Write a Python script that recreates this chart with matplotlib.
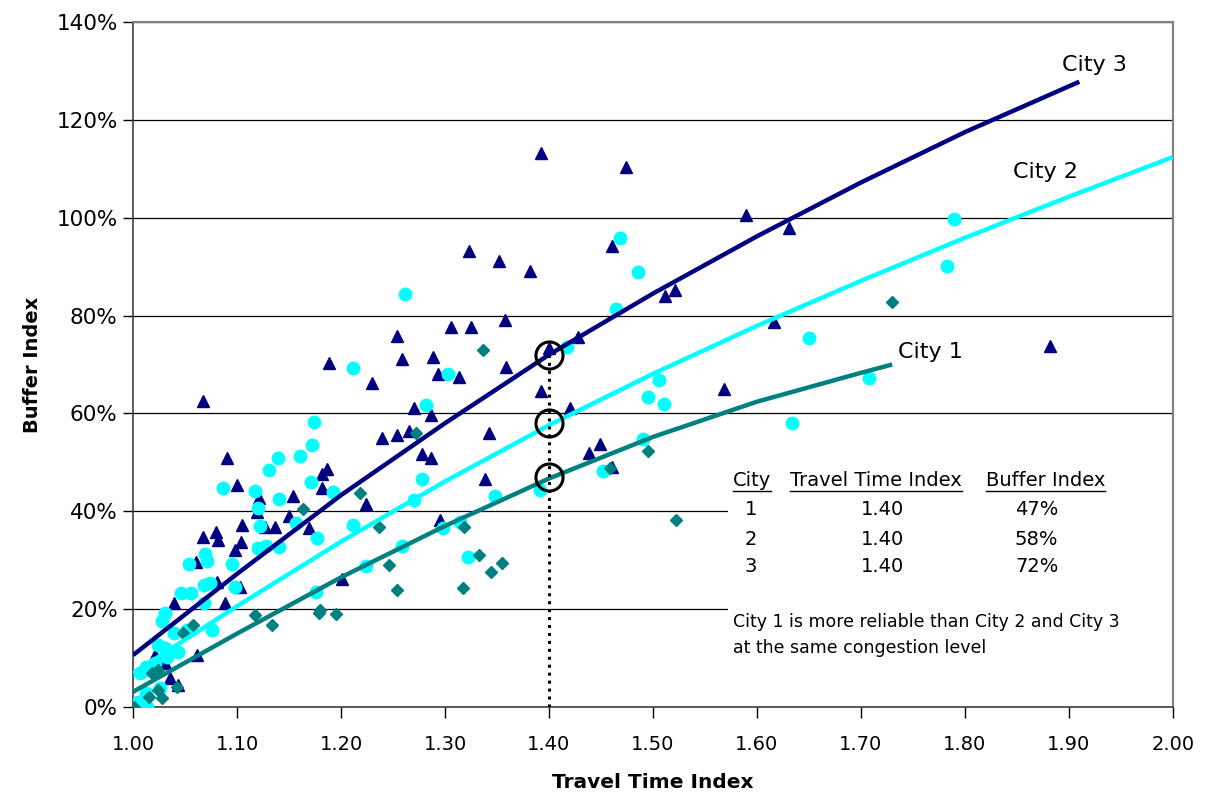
import numpy as np
import matplotlib
matplotlib.use("Agg")
import matplotlib.pyplot as plt
from matplotlib.patches import Rectangle
from matplotlib.ticker import FuncFormatter

# scatter points (travel time index, buffer index %)
city1_x = [1.001, 1.015, 1.028, 1.024, 1.042, 1.018, 1.024, 1.048, 1.058, 1.117,
           1.134, 1.163, 1.180, 1.179, 1.195, 1.218, 1.237, 1.246, 1.254, 1.272,
           1.317, 1.318, 1.333, 1.337, 1.344, 1.355, 1.459, 1.495, 1.522, 1.730]
city1_y = [0.0, 2.0, 1.8, 3.5, 4.1, 6.9, 7.6, 15.1, 16.8, 18.8,
           16.8, 40.5, 19.8, 19.2, 19.0, 43.7, 36.8, 29.0, 23.9, 56.0,
           24.3, 36.8, 31.1, 73.0, 27.6, 29.4, 48.8, 52.3, 38.2, 82.8]

city2_x = [1.000, 1.005, 1.013, 1.012, 1.026, 1.007, 1.014, 1.012, 1.021, 1.033,
           1.043, 1.031, 1.024, 1.039, 1.052, 1.076, 1.028, 1.031, 1.068, 1.046,
           1.056, 1.068, 1.074, 1.098, 1.054, 1.069, 1.071, 1.095, 1.120, 1.128,
           1.140, 1.122, 1.120, 1.140, 1.117, 1.087, 1.131, 1.139, 1.161, 1.172,
           1.174, 1.171, 1.157, 1.177, 1.176, 1.192, 1.212, 1.212, 1.224, 1.259,
           1.262, 1.270, 1.278, 1.282, 1.298, 1.303, 1.314, 1.322, 1.348, 1.391,
           1.417, 1.452, 1.464, 1.468, 1.486, 1.490, 1.495, 1.506, 1.511, 1.634,
           1.650, 1.708, 1.783, 1.789]
city2_y = [0.0, 1.0, 0.0, 2.9, 3.9, 6.9, 7.6, 8.2, 9.0, 10.2,
           11.2, 12.1, 12.7, 15.1, 15.7, 15.7, 17.6, 19.2, 21.3, 23.3,
           23.3, 24.9, 25.3, 24.5, 29.2, 31.3, 29.8, 29.2, 32.5, 32.9,
           32.7, 37.0, 40.7, 42.5, 44.1, 44.8, 48.4, 50.9, 51.3, 53.5,
           58.2, 46.0, 37.6, 34.5, 23.5, 43.9, 37.2, 69.3, 28.8, 32.9,
           84.4, 42.3, 46.6, 61.7, 36.6, 68.1, 37.8, 30.7, 43.1, 44.3,
           73.6, 48.2, 81.3, 95.8, 88.9, 54.8, 63.4, 66.8, 61.9, 58.0,
           75.4, 67.2, 90.1, 99.7]

city3_x = [1.021, 1.031, 1.036, 1.043, 1.039, 1.062, 1.061, 1.067, 1.067, 1.080,
           1.082, 1.081, 1.088, 1.090, 1.098, 1.100, 1.103, 1.104, 1.105, 1.119,
           1.121, 1.127, 1.137, 1.150, 1.154, 1.169, 1.182, 1.182, 1.187, 1.188,
           1.201, 1.224, 1.230, 1.239, 1.254, 1.254, 1.259, 1.265, 1.270, 1.278,
           1.287, 1.287, 1.288, 1.293, 1.295, 1.306, 1.313, 1.323, 1.325, 1.338,
           1.342, 1.352, 1.358, 1.359, 1.382, 1.392, 1.392, 1.400, 1.420, 1.428,
           1.438, 1.449, 1.461, 1.461, 1.474, 1.512, 1.521, 1.568, 1.589, 1.616,
           1.631, 1.882]
city3_y = [10.6, 9.0, 5.9, 4.5, 21.2, 10.6, 29.6, 34.7, 62.5, 35.8,
           34.1, 25.6, 21.3, 50.9, 32.1, 45.4, 24.5, 33.7, 37.2, 39.9,
           42.7, 36.8, 36.8, 39.0, 43.1, 36.6, 44.8, 47.6, 48.6, 70.3,
           26.2, 41.5, 66.2, 55.0, 55.6, 75.8, 71.1, 56.4, 61.1, 51.7,
           50.9, 59.7, 71.5, 68.1, 38.2, 77.7, 67.4, 93.2, 77.7, 46.6,
           56.0, 91.2, 79.1, 69.5, 89.1, 64.6, 113.2, 73.4, 61.1, 75.6,
           51.9, 53.8, 49.1, 94.2, 110.4, 84.0, 85.2, 65.0, 100.6, 78.7,
           97.9, 73.8]

# trend lines
trend1_x = [1.00, 1.10, 1.20, 1.30, 1.40, 1.50, 1.60, 1.70, 1.73]
trend1_y = [3.1, 15.0, 26.5, 37.0, 46.7, 55.2, 62.4, 68.3, 70.0]
trend2_x = [1.00, 1.10, 1.20, 1.30, 1.40, 1.50, 1.60, 1.70, 1.80, 1.90, 2.00]
trend2_y = [6.9, 20.6, 33.8, 46.1, 57.6, 68.1, 77.9, 87.1, 95.9, 104.3, 112.4]
trend3_x = [1.00, 1.10, 1.20, 1.30, 1.40, 1.50, 1.60, 1.70, 1.80, 1.91]
trend3_y = [10.6, 27.2, 43.3, 58.0, 72.0, 84.5, 96.2, 107.2, 117.5, 127.8]

# comparison at TTI = 1.40
cities = ["1", "2", "3"]
tti = [1.40, 1.40, 1.40]
buffer = [47, 58, 72]

navy = "#000080"
cyan = "#00FFFF"
teal = "#008080"

plt.rcParams['font.family'] = ['DejaVu Sans']

fig = plt.figure(figsize=(12.06, 8), dpi=100)
ax = fig.add_axes([0.1103, 0.11625, 0.8623, 0.85625])

ax.set_xlim(1.0, 2.0)
ax.set_ylim(0, 140)
ax.set_xticks(np.arange(1.0, 2.01, 0.1))
ax.set_yticks(np.arange(0, 141, 20))
ax.xaxis.set_major_formatter(FuncFormatter(lambda v, p: f"{v:.2f}"))
ax.yaxis.set_major_formatter(FuncFormatter(lambda v, p: f"{v:.0f}%"))
ax.tick_params(axis='y', labelsize=15.5, length=7, width=1, pad=4)
ax.tick_params(axis='x', labelsize=14, length=8, width=1, pad=12)
ax.set_axisbelow(True)
ax.grid(axis='y', color='black', linewidth=0.9)
for s in ['top', 'right']:
    ax.spines[s].set_color('#808080')
    ax.spines[s].set_linewidth(1.5)
for s in ['left', 'bottom']:
    ax.spines[s].set_color('#404040')
    ax.spines[s].set_linewidth(1.2)

ax.set_xlabel("Travel Time Index", fontsize=14.5, fontweight='bold', labelpad=14)
ax.set_ylabel("Buffer Index", fontsize=14, fontweight='bold', labelpad=10)

ax.plot(city3_x, city3_y, linestyle='none', marker='^', ms=9, color=navy, zorder=3)
ax.plot(city2_x, city2_y, linestyle='none', marker='o', ms=9, color=cyan, zorder=4)
ax.plot(city1_x, city1_y, linestyle='none', marker='D', ms=6.5, color=teal, zorder=5)

ax.plot(trend3_x, trend3_y, color=navy, lw=3.2, solid_capstyle='butt',
        solid_joinstyle='round', zorder=6)
ax.plot(trend2_x, trend2_y, color=cyan, lw=3.2, solid_capstyle='butt',
        solid_joinstyle='round', zorder=6)
ax.plot(trend1_x, trend1_y, color=teal, lw=3.2, solid_capstyle='butt',
        solid_joinstyle='round', zorder=6)

ax.text(1.893, 131.2, "City 3", fontsize=16, va='center', ha='left')
ax.text(1.846, 109.3, "City 2", fontsize=16, va='center', ha='left')
ax.text(1.736, 72.6, "City 1", fontsize=16, va='center', ha='left')

ax.plot([tti[2], tti[2]], [0, buffer[2]], color='black', lw=2.2,
        linestyle=(0, (1, 1.6)), zorder=7)
ax.plot(tti, buffer, linestyle='none', marker='o', ms=19.5, mfc='none',
        mec='black', mew=2.2, zorder=8)

# white text box that hides the grid behind the table
ax.add_patch(Rectangle((1.572, 7.6), 0.427, 43.9, facecolor='white',
                       edgecolor='none', zorder=2))

fs = 14
headers = [ax.text(1.577, 46.2, "City", fontsize=fs, va='center', ha='left', zorder=9),
           ax.text(1.632, 46.2, "Travel Time Index", fontsize=fs, va='center', ha='left', zorder=9),
           ax.text(1.820, 46.2, "Buffer Index", fontsize=fs, va='center', ha='left', zorder=9)]
row_y = [40.3, 34.3, 28.8]
for c, t, b, ry in zip(cities, tti, buffer, row_y):
    ax.text(1.594, ry, c, fontsize=fs, va='center', ha='center', zorder=9)
    ax.text(1.721, ry, f"{t:.2f}", fontsize=fs, va='center', ha='center', zorder=9)
    ax.text(1.869, ry, f"{b}%", fontsize=fs, va='center', ha='center', zorder=9)
ax.text(1.577, 17.4, "City 1 is more reliable than City 2 and City 3",
        fontsize=12.5, va='center', ha='left', zorder=9)
ax.text(1.577, 12.1, "at the same congestion level",
        fontsize=12.5, va='center', ha='left', zorder=9)

# underline the table headers
fig.canvas.draw()
inv = ax.transData.inverted()
for h in headers:
    bb = h.get_window_extent()
    (x0, y0), (x1, _) = inv.transform([(bb.x0, bb.y0), (bb.x1, bb.y0)])
    ax.plot([x0, x1], [y0 - 0.1, y0 - 0.1], color='black', lw=1, zorder=9)

fig.savefig("out.png", dpi=100)
